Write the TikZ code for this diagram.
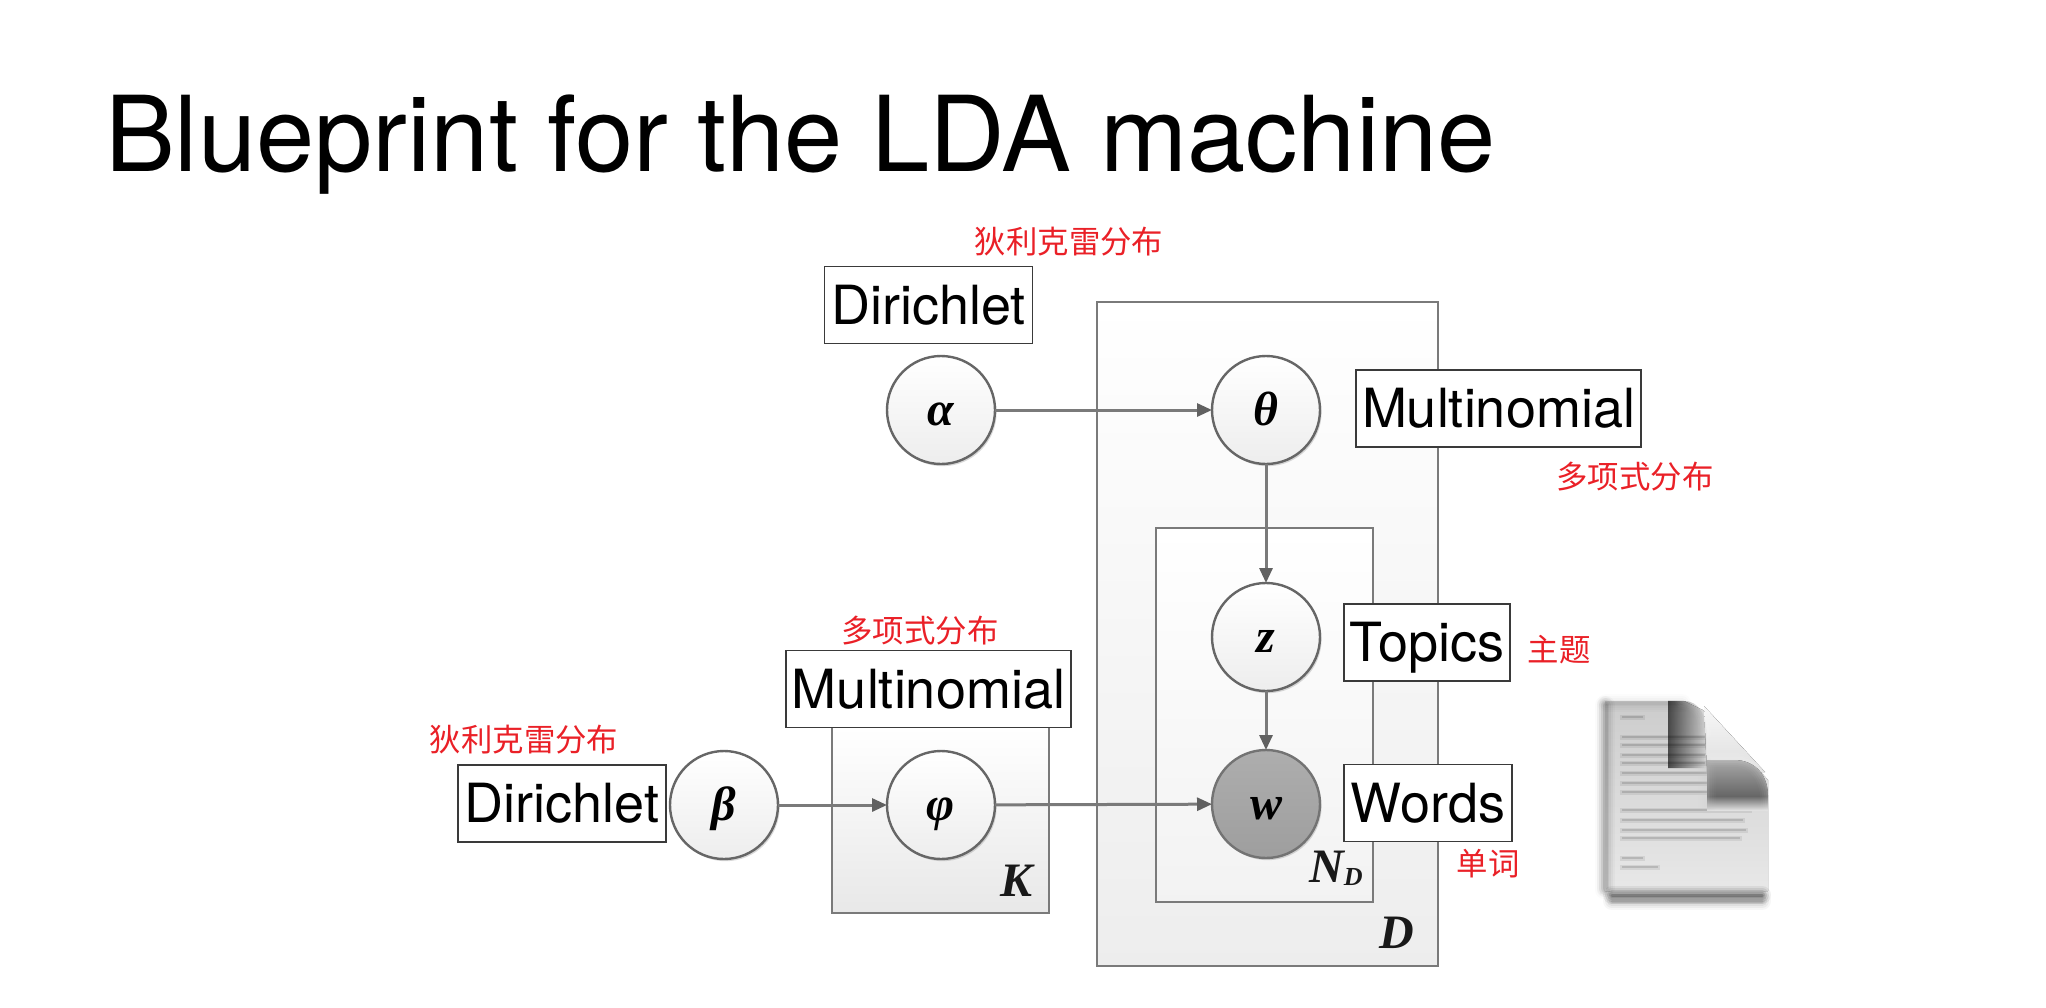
\documentclass[tikz,border=0pt]{standalone}
\usepackage{fontspec}
\setmainfont{TeX Gyre Heros}
\newfontfamily\cjk{Noto Sans CJK SC}
\newfontfamily\symfont{Liberation Serif Bold Italic}
\usetikzlibrary{arrows.meta,shadows,fadings}
\definecolor{linegray}{HTML}{7A7A7A}
\definecolor{labelred}{HTML}{EA2027}
\definecolor{boxline}{HTML}{3A3A3A}
\tikzset{
  x=1pt,y=-1pt,
  every node/.style={inner sep=0pt,outer sep=0pt},
  plate/.style={draw=linegray,line width=2.8pt,anchor=north west,top color=white,bottom color=#1},
  plate/.default={black!7},
  rv/.style={circle,minimum size=108pt,draw=black!60,line width=2.4pt,top color=white,bottom color=black!7,
    drop shadow={shadow xshift=1.6pt,shadow yshift=-2.2pt,opacity=.3,fill=black!50},
    text height=30pt,text depth=0pt,font=\symfont\fontsize{48}{48}\selectfont},
  observed/.style={rv,top color=black!32,bottom color=black!38,draw=black!55},
  dist/.style={draw=boxline,line width=1.7pt,fill=white,minimum height=77pt,text height=38pt,text depth=0pt,
    font=\fontsize{54}{54}\selectfont},
  gloss/.style={text=labelred,font=\cjk\fontsize{31.4}{31.4}\selectfont},
  platelabel/.style={font=\symfont\fontsize{48}{48}\selectfont,text=black!90},
  flow/.style={draw=linegray,line width=3pt,-{Triangle[length=15pt,width=13pt,color=black!62]}},
}
% several widening translucent strokes along a path give a soft edge
\newcommand{\softpath}[3]{%
  \foreach \w/\o in {18/.05,14/.07,10/.09,6/.12,3/.15}{\path[draw=#1,line width=\w pt,opacity=\o*#2,line join=round,line cap=round] #3;}}
\begin{document}
\begin{tikzpicture}
\useasboundingbox (0,0) rectangle (2046,1007);
\fill[white] (0,0) rectangle (2046,1007);

% heading
\node[anchor=base west,font=\fontsize{104.7}{104.7}\selectfont,text=black] (title) at (105,171) {Blueprint for the LDA machine};

% plates
\node[plate,minimum width=341pt,minimum height=664pt] (docplate) at (1097,302) {};
\node[plate=black!5,minimum width=217pt,minimum height=374pt] (wordplate) at (1156,528) {};
\node[plate=black!9,minimum width=217pt,minimum height=186pt] (topicplate) at (832,727) {};
\node[platelabel] (Dlab) at (1397,933) {D};
\node[platelabel] (Klab) at (1016,881) {K};
\node[platelabel] (Nlab) at (1336,868) {N\raisebox{-3pt}{\fontsize{26}{26}\selectfont D}};

% random variables
\node[rv] (alpha) at (941,410) {α};
\node[rv] (theta) at (1266,410) {θ};
\node[rv] (z) at (1266,637) {z};
\node[observed] (w) at (1266,804) {w};
\node[rv] (beta) at (724,805) {β};
\node[rv] (phi) at (941,805) {φ};

% dependencies
\draw[flow] (alpha) -- (theta);
\draw[flow] (theta) -- (z);
\draw[flow] (z) -- (w);
\draw[flow] (beta) -- (phi);
\draw[flow] (phi) -- (w);

% distribution boxes
\node[dist,minimum width=208pt] (dir1) at (928.5,305) {Dirichlet};
\node[dist,minimum width=285pt] (mult1) at (1498.5,408.5) {Multinomial};
\node[dist,minimum width=285pt] (mult2) at (928.5,689) {Multinomial};
\node[dist,minimum width=208pt] (dir2) at (562,803.5) {Dirichlet};
\node[dist,minimum width=166pt] (topics) at (1427,642.5) {Topics};
\node[dist,minimum width=167.5pt] (words) at (1428,803) {Words};

% translations
\node[gloss] (g1) at (1069,242) {狄利克雷分布};
\node[gloss] (g2) at (1635,477) {多项式分布};
\node[gloss] (g3) at (920,631) {多项式分布};
\node[gloss] (g4) at (524,740) {狄利克雷分布};
\node[gloss] (g5) at (1559,650) {主题};
\node[gloss] (g6) at (1488,864) {单词};

% document icon: soft shadow and page
\softpath{black}{.6}{(1612,901) -- (1762,901)}
\softpath{black}{.35}{(1604,705) -- (1604,890)}
\fill[top color=black!20,bottom color=black!9] (1605,701) -- (1684,701) -- (1707,712) -- (1768,780) -- (1768,891) -- (1605,891) -- cycle;
\softpath{black}{.5}{(1606,705) -- (1606,888)}
\softpath{black}{.22}{(1606,703) -- (1682,703)}
\softpath{black}{1.2}{(1612,895) -- (1762,895)}
% icon: blurred lines of text
\foreach \yy/\xe in {717/1645,737/1707,745/1707,755/1707,763/1707,773/1720,783/1735,792/1725,810/1752,820/1745,830/1748,838/1742,858/1645,867/1660}{
  \path[draw=black,line width=5pt,opacity=.07] (1620,\yy) -- (\xe,\yy);
  \path[draw=black,line width=2.4pt,opacity=.13] (1622,\yy) -- (\xe-2,\yy);
}
% icon: turned-over corner
\fill[top color=black!3,bottom color=black!13] (1704,706) -- (1765,772) -- (1707,772) -- cycle;
\fill[black,opacity=.65,path fading=east] (1668,701) -- (1684,701) .. controls (1698,701) and (1707,714) .. (1707,735) -- (1707,768) -- (1668,768) -- cycle;
\fill[top color=black!34,bottom color=black!60] (1707,760) -- (1734,760) .. controls (1756,760) and (1768,776) .. (1768,796) -- (1707,796) -- cycle;
\fill[top color=black!60,bottom color=black!12] (1707,796) rectangle (1768,810);
\softpath{black!20}{.6}{(1707,768) -- (1707,805)}
\softpath{white}{.5}{(1684,700) .. controls (1698,700) and (1708,714) .. (1708,735)}
\softpath{white}{.55}{(1711,758) -- (1734,758) .. controls (1756,758) and (1770,776) .. (1770,806)}
\end{tikzpicture}
\end{document}
